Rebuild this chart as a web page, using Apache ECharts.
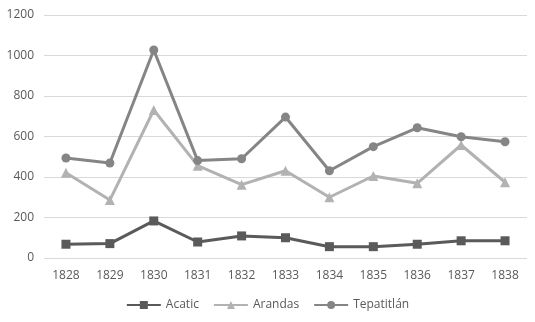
<!DOCTYPE html>
<html>
<head>
    <meta charset="utf-8">
    <title>Acatic, Arandas, Tepatitlán</title>
    <script src="https://cdn.jsdelivr.net/npm/echarts@6/dist/echarts.min.js"></script>
    <style type="text/css">
        * { margin: 0; padding: 0; }
        body { background: #fff; }
        #main { width: 535px; height: 322px; }
    </style>
</head>
<body>
<div id="main"></div>
<script type="text/javascript">
    var years = ['1828', '1829', '1830', '1831', '1832', '1833', '1834', '1835', '1836', '1837', '1838'];
    var acatic = [68, 71, 183, 79, 109, 100, 56, 56, 68, 85, 85];
    var arandas = [421, 286, 731, 456, 362, 431, 300, 405, 369, 558, 374];
    var tepatitlan = [494, 469, 1027, 481, 490, 696, 431, 550, 643, 599, 574];

    var myChart = echarts.init(document.getElementById('main'));
    var font = 'Open Sans, Liberation Sans, sans-serif';

    function serie(name, data, color, symbol, size) {
        return {
            name: name,
            type: 'line',
            data: data,
            symbol: symbol,
            symbolSize: size,
            color: color,
            lineStyle: { width: 3, color: color },
            itemStyle: { color: color },
            emphasis: { disabled: true }
        };
    }

    var option = {
        animation: false,
        textStyle: { fontFamily: font },
        grid: { left: 44, right: 8, top: 15, bottom: 64 },
        legend: {
            bottom: 6,
            left: 'center',
            itemWidth: 34,
            itemHeight: 10,
            itemGap: 14,
            textStyle: { color: '#595959', fontSize: 12, fontFamily: font },
            data: ['Acatic', 'Arandas', 'Tepatitlán']
        },
        xAxis: {
            type: 'category',
            data: years,
            boundaryGap: true,
            axisLine: { show: false },
            axisTick: { show: false },
            axisLabel: { color: '#595959', fontSize: 12, margin: 12 }
        },
        yAxis: {
            type: 'value',
            min: 0,
            max: 1200,
            interval: 200,
            axisLine: { show: false },
            axisTick: { show: false },
            axisLabel: {
                color: '#595959',
                fontSize: 12,
                margin: 10,
                formatter: function (v) { return String(v); }
            },
            splitLine: { lineStyle: { color: '#d9d9d9', width: 1 } }
        },
        series: [
            serie('Acatic', acatic, '#5a5a5a', 'rect', 9),
            serie('Arandas', arandas, '#b2b2b2', 'triangle', 10),
            serie('Tepatitlán', tepatitlan, '#858585', 'circle', 9)
        ]
    };

    myChart.setOption(option);
</script>
</body>
</html>
